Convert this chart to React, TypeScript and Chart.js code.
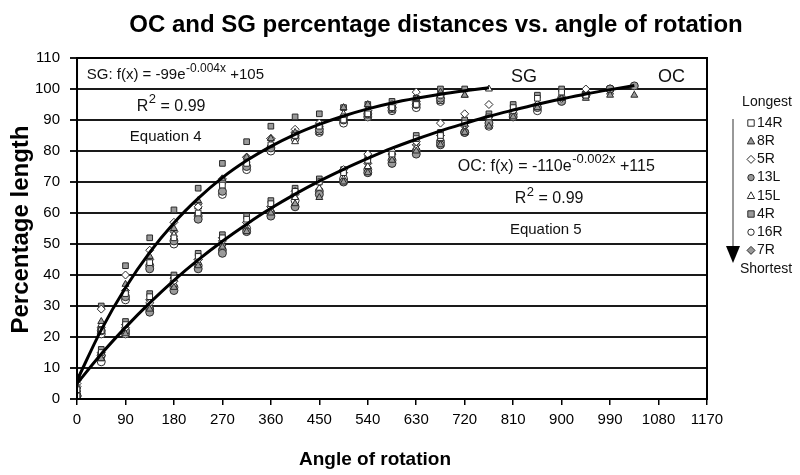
import React, { useEffect, useRef } from "react";
import { Chart, registerables } from "chart.js";

Chart.register(...registerables);

// ---------- data ----------
const SG_ANGLES = [0, 45, 90, 135, 180, 225, 270, 315, 360, 405, 450, 495, 540, 585, 630, 675, 720, 765];
const OC_ANGLES = [0, 45, 90, 135, 180, 225, 270, 315, 360, 405, 450, 495, 540, 585, 630, 675, 720, 765, 810, 855, 900, 945, 990, 1035];

const X_TICKS = [0, 90, 180, 270, 360, 450, 540, 630, 720, 810, 900, 990, 1080, 1170];
const Y_TICKS = [0, 10, 20, 30, 40, 50, 60, 70, 80, 90, 100, 110];

const SERIES_NAMES = ["14R", "8R", "5R", "13L", "15L", "4R", "16R", "7R"];

// SG values per specimen
const SG_14R = [3, 22, 34, 44, 52, 60, 69, 76, 82, 85, 88, 90, 92, 94, 95, 98, null, null];
const SG_8R = [4, 25, 37, 46, 55, 64, 71, 78, 84, 86, 88, 94, 95, 94, 97, 99, 98, null];
const SG_5R = [5, 29, 40, 48, 57, 62, 70, 78, 84, 87, 89, 91, 93, 95, 99, 98, null, null];
const SG_13L = [1, 22, 33, 42, 51, 58, 67, 75, 81, 85, 87, 90, 92, 94, 95, 97, null, null];
const SG_15L = [2, 24, 35, 44, 53, 62, 70, 77, 82, 83, 86, 92, 91, 93, 96, 96, 98, 100];
const SG_4R = [3, 30, 43, 52, 61, 68, 76, 83, 88, 91, 92, 94, 95, 96, 97, 100, 100, null];
const SG_16R = [0, 21, 32, 43, 50, 59, 66, 74, 80, 84, 86, 89, 91, 93, 94, 96, null, null];
const SG_7R = [7, 23, 35, 45, 54, 63, 71, 78, 84, 86, 88, 91, 93, 94, 96, 97, null, null];

// OC values per specimen
const OC_14R = [1, 15, 24, 33, 39, 46, 52, 58, 63, 67, 70, 73, 77, 79, 84, 85, 89, 91, 94, 97, 99, 98, null, null];
const OC_8R = [3, 13, 21, 29, 36, 43, 49, 54, 60, 63, 65, 70, 73, 77, 80, 82, 86, 88, 91, 94, 97, 97, 98, 98];
const OC_5R = [4, 14, 23, 31, 38, 45, 51, 57, 62, 67, 70, 74, 79, 80, 83, 89, 92, 95, 93, 95, 97, 100, null, null];
const OC_13L = [0, 14, 22, 28, 35, 42, 47, 54, 59, 62, 66, 70, 73, 76, 79, 82, 86, 89, 91, 94, 96, 98, 100, 101];
const OC_15L = [2, 13, 22, 30, 37, 44, 50, 55, 61, 65, 68, 71, 75, 78, 81, 84, 87, 90, 92, 95, 96, 99, 99, null];
const OC_4R = [2, 16, 25, 34, 40, 47, 53, 59, 64, 68, 71, 74, 78, 79, 85, 86, 90, 92, 95, 98, 100, null, null, null];
const OC_16R = [1, 12, 21, 29, 36, 43, 48, 55, 60, 64, 67, 71, 74, 77, 80, 83, 86, 88, 92, 93, 97, 98, 100, null];
const OC_7R = [6, 15, 24, 32, 39, 45, 52, 57, 62, 66, 70, 73, 76, 79, 82, 85, 88, 91, 93, 95, 97, 99, null, null];

// fitted curves
const SG_FIT = [6, 22.3, 35.9, 47.3, 56.8, 64.7, 71.4, 76.9, 81.5, 85.4, 88.6, 91.3, 93.6, 95.5, 97.0, 98.3, 99.4, 100.4];
const OC_FIT = [5, 14.5, 23.1, 31.0, 38.3, 44.9, 50.9, 56.4, 61.5, 66.1, 70.3, 74.1, 77.6, 80.9, 83.8, 86.5, 88.9, 91.2, 93.2, 95.1, 96.8, 98.4, 99.8, 101.1];

const SG_SERIES = [SG_14R, SG_8R, SG_5R, SG_13L, SG_15L, SG_4R, SG_16R, SG_7R];
const OC_SERIES = [OC_14R, OC_8R, OC_5R, OC_13L, OC_15L, OC_4R, OC_16R, OC_7R];

const TITLE = "OC and SG percentage distances vs. angle of rotation";
const X_TITLE = "Angle of rotation";
const Y_TITLE = "Percentage length";

// ---------- styles ----------
const GRAY = "#9a9a9a";
const WHITE = "#ffffff";
const EDGE = "#2a2a2a";
const MARKERS: { style: string; fill: string }[] = [
  { style: "rect", fill: WHITE },
  { style: "triangle", fill: GRAY },
  { style: "rectRot", fill: WHITE },
  { style: "circle", fill: GRAY },
  { style: "triangle", fill: WHITE },
  { style: "rect", fill: GRAY },
  { style: "circle", fill: WHITE },
  { style: "rectRot", fill: GRAY },
];

const FONT = "'Liberation Sans', Arial, sans-serif";

function drawMarker(ctx: CanvasRenderingContext2D, style: string, fill: string, cx: number, cy: number, r: number) {
  ctx.beginPath();
  if (style === "rect") {
    ctx.rect(cx - r, cy - r, 2 * r, 2 * r);
  } else if (style === "rectRot") {
    ctx.moveTo(cx, cy - r * 1.25);
    ctx.lineTo(cx + r * 1.25, cy);
    ctx.lineTo(cx, cy + r * 1.25);
    ctx.lineTo(cx - r * 1.25, cy);
    ctx.closePath();
  } else if (style === "triangle") {
    ctx.moveTo(cx, cy - r * 1.25);
    ctx.lineTo(cx + r * 1.15, cy + r * 0.85);
    ctx.lineTo(cx - r * 1.15, cy + r * 0.85);
    ctx.closePath();
  } else {
    ctx.arc(cx, cy, r, 0, Math.PI * 2);
  }
  ctx.fillStyle = fill;
  ctx.fill();
  ctx.strokeStyle = EDGE;
  ctx.lineWidth = 1;
  ctx.stroke();
}

function drawSupText(
  ctx: CanvasRenderingContext2D,
  x: number,
  y: number,
  main: string,
  sup: string,
  tail: string,
  size: number
) {
  ctx.font = `${size}px ${FONT}`;
  ctx.textAlign = "left";
  ctx.textBaseline = "middle";
  ctx.fillText(main, x, y);
  let cx = x + ctx.measureText(main).width;
  ctx.font = `${Math.round(size * 0.8)}px ${FONT}`;
  ctx.fillText(sup, cx + 0.5, y - size * 0.42);
  cx += ctx.measureText(sup).width + 0.5;
  ctx.font = `${size}px ${FONT}`;
  ctx.fillText(tail, cx, y);
}

const overlayPlugin = {
  id: "overlay",
  afterDraw(chart: any) {
    const { ctx, chartArea, scales } = chart;
    const xs = scales.x;
    const ys = scales.y;
    ctx.save();
    // frame
    ctx.strokeStyle = "#000";
    ctx.lineWidth = 2;
    ctx.strokeRect(chartArea.left, chartArea.top, chartArea.right - chartArea.left, chartArea.bottom - chartArea.top);

    // title & axis titles
    ctx.fillStyle = "#000";
    ctx.font = `bold 24px ${FONT}`;
    ctx.textAlign = "center";
    ctx.textBaseline = "middle";
    ctx.fillText(TITLE, 436, chartArea.top - 33);

    ctx.font = `bold 19px ${FONT}`;
    ctx.fillText(X_TITLE, (chartArea.left + chartArea.right) / 2 - 17, chartArea.bottom + 61);

    ctx.save();
    ctx.translate(21, (chartArea.top + chartArea.bottom) / 2 + 1);
    ctx.rotate(-Math.PI / 2);
    ctx.font = `bold 24px ${FONT}`;
    ctx.fillText(Y_TITLE, 0, 0);
    ctx.restore();

    ctx.fillStyle = "#111";
    // SG equation block
    drawSupText(ctx, xs.getPixelForValue(18), ys.getPixelForValue(104.6), "SG: f(x) = -99e", "-0.004x", " +105", 15);
    drawSupText(ctx, xs.getPixelForValue(111), ys.getPixelForValue(94.4), "R", "2", " = 0.99", 16);
    ctx.font = `15px ${FONT}`;
    ctx.textBaseline = "middle";
    ctx.textAlign = "left";
    ctx.fillText("Equation 4", xs.getPixelForValue(98), ys.getPixelForValue(84.5));

    // OC equation block
    drawSupText(ctx, xs.getPixelForValue(707), ys.getPixelForValue(75), "OC: f(x) = -110e", "-0.002x", " +115", 16);
    drawSupText(ctx, xs.getPixelForValue(813), ys.getPixelForValue(64.6), "R", "2", " = 0.99", 16);
    ctx.font = `15px ${FONT}`;
    ctx.textBaseline = "middle";
    ctx.textAlign = "left";
    ctx.fillText("Equation 5", xs.getPixelForValue(804), ys.getPixelForValue(54.5));

    // curve labels
    ctx.font = `18px ${FONT}`;
    ctx.fillText("SG", xs.getPixelForValue(806), ys.getPixelForValue(104));
    ctx.fillText("OC", xs.getPixelForValue(1079), ys.getPixelForValue(104));

    // legend
    const lx = chartArea.right;
    const top = chartArea.top;
    ctx.font = `14px ${FONT}`;
    ctx.textAlign = "center";
    ctx.fillText("Longest", lx + 60, top + 44);
    ctx.textAlign = "left";
    SERIES_NAMES.forEach((name, i) => {
      const yy = top + 65 + i * 18.2;
      drawMarker(ctx, MARKERS[i].style, MARKERS[i].fill, lx + 44, yy, 3.2);
      ctx.fillStyle = "#111";
      ctx.fillText(name, lx + 50, yy);
    });
    ctx.textAlign = "center";
    ctx.fillText("Shortest", lx + 59, top + 211);

    // arrow
    ctx.strokeStyle = "#333";
    ctx.lineWidth = 1;
    ctx.beginPath();
    ctx.moveTo(lx + 26, top + 61);
    ctx.lineTo(lx + 26, top + 190);
    ctx.stroke();
    ctx.fillStyle = "#000";
    ctx.beginPath();
    ctx.moveTo(lx + 19, top + 188);
    ctx.lineTo(lx + 33, top + 188);
    ctx.lineTo(lx + 26, top + 205);
    ctx.closePath();
    ctx.fill();
    ctx.restore();
  },
};

export default function App() {
  const ref = useRef<HTMLCanvasElement | null>(null);

  useEffect(() => {
    if (!ref.current) return;
    const pointSets = SERIES_NAMES.map((name, i) => {
      const pts: { x: number; y: number }[] = [];
      SG_SERIES[i].forEach((v, k) => {
        if (v !== null) pts.push({ x: SG_ANGLES[k], y: v as number });
      });
      OC_SERIES[i].forEach((v, k) => {
        if (v !== null) pts.push({ x: OC_ANGLES[k], y: v as number });
      });
      return {
        type: "scatter" as const,
        label: name,
        data: pts,
        showLine: false,
        pointStyle: MARKERS[i].style,
        pointRadius: 4,
        backgroundColor: MARKERS[i].fill,
        borderColor: EDGE,
        borderWidth: 1,
        order: 1,
      };
    });

    const fitSets = [
      { label: "SG fit", data: SG_FIT.map((v, k) => ({ x: SG_ANGLES[k], y: v })) },
      { label: "OC fit", data: OC_FIT.map((v, k) => ({ x: OC_ANGLES[k], y: v })) },
    ].map((d) => ({
      type: "line" as const,
      label: d.label,
      data: d.data,
      borderColor: "#000",
      borderWidth: 3,
      pointRadius: 0,
      cubicInterpolationMode: "monotone" as const,
      fill: false,
      order: -1,
    }));

    const chart = new Chart(ref.current, {
      type: "scatter",
      data: { datasets: [...fitSets, ...pointSets] as any },
      options: {
        animation: false,
        responsive: false,
        layout: { padding: { left: 25, right: 93, top: 58, bottom: 40 } },
        plugins: {
          legend: { display: false },
          tooltip: { enabled: false },
          title: { display: false },
        },
        scales: {
          x: {
            type: "linear",
            min: 0,
            max: 1170,
            afterBuildTicks: (axis: any) => {
              axis.ticks = X_TICKS.map((v) => ({ value: v }));
            },
            ticks: {
              autoSkip: false,
              maxRotation: 0,
              color: "#000",
              font: { family: FONT, size: 15 },
              padding: 6,
              callback: (v: any) => String(v),
            },
            grid: {
              drawOnChartArea: false,
              drawTicks: true,
              tickLength: 6,
              color: "#000",
              lineWidth: 1.5,
            },
            border: { display: true, color: "#000", width: 2 },
            title: { display: false },
          },
          y: {
            type: "linear",
            min: 0,
            max: 110,
            afterBuildTicks: (axis: any) => {
              axis.ticks = Y_TICKS.map((v) => ({ value: v }));
            },
            ticks: {
              color: "#000",
              font: { family: FONT, size: 15 },
              padding: 10,
              callback: (v: any) => String(v),
            },
            grid: {
              color: "#1a1a1a",
              lineWidth: 2,
              drawTicks: true,
              tickLength: 7,
            },
            border: { display: true, color: "#000", width: 2 },
            title: { display: false },
          },
        },
      },
      plugins: [overlayPlugin],
    });
    return () => chart.destroy();
  }, []);

  return (
    <div style={{ position: "fixed", left: 0, top: 0, width: 800, height: 475, background: "#fff" }}>
      <canvas ref={ref} width={800} height={475} style={{ width: 800, height: 475, display: "block" }} />
    </div>
  );
}
